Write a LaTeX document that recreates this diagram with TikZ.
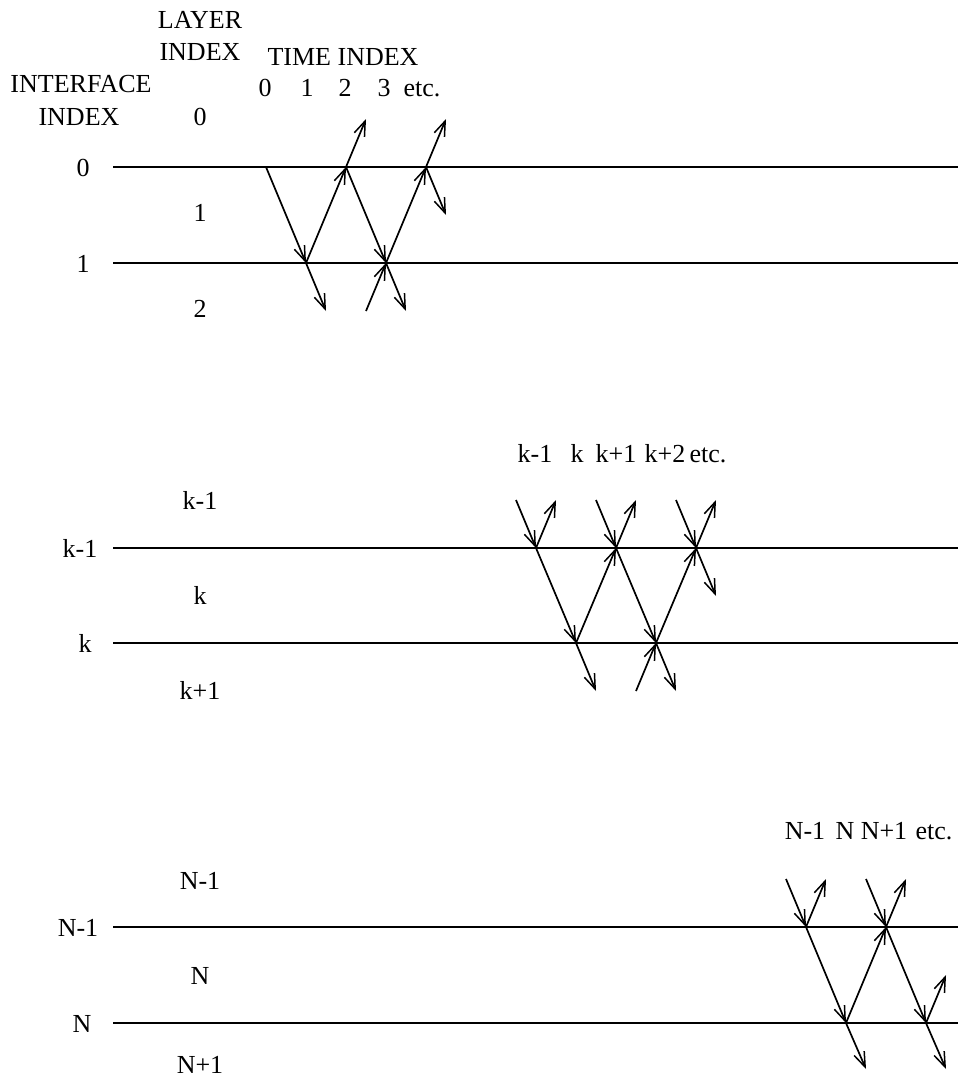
\documentclass[tikz,border=0pt]{standalone}
\usepackage{fontspec}
\setmainfont{Liberation Serif}
\usetikzlibrary{arrows.meta,calc}

\tikzset{
  ray/.style={line width=1.7pt,-{Straight Barb[length=15pt,width=11pt,line width=1.5pt]}},
  iface/.style={line width=1.2pt},
  lbl/.style={font=\fontsize{26}{31}\selectfont,inner sep=0pt,anchor=base},
}

\begin{document}
\begin{tikzpicture}[x=1pt,y=-1pt]
\useasboundingbox (0,0) rectangle (962,1079);

% interfaces
\foreach \name/\y in {i0/167,i1/263,ik1/548,ik/643,iN1/927,iN/1023}{
  \coordinate (\name-l) at (113,\y);
  \coordinate (\name-r) at (958,\y);
  \draw[iface] (\name-l) -- (\name-r);
}

% headings (positions are baselines)
\node[lbl] (hLayer)  at (200,28)  {LAYER};
\node[lbl] (hLayerI) at (200,60)  {INDEX};
\node[lbl] (hTime)   at (343,65)  {TIME INDEX};
\node[lbl] (hIface)  at (81,92)   {INTERFACE};
\node[lbl] (hIfaceI) at (79,125)  {INDEX};

% interface indices
\foreach \name/\x/\y/\t in {n0/83/176/0,n1/83/272/1,nk1/80/557/k-1,nk/85/652/k,nN1/78/936/N-1,nN/82/1032/N}
  \node[lbl] (\name) at (\x,\y) {\t};

% layer indices
\foreach \name/\y/\t in {l0/125/0,l1/221/1,l2/317/2,lk1/509/k-1,lk/604/k,lk2/699/k+1,lN1/889/N-1,lN/984/N,lN2/1073/N+1}
  \node[lbl] (\name) at (200,\y) {\t};

% time indices
\foreach \name/\x/\y/\t in {t0/265/96/0,t1/307/96/1,t2/345/96/2,t3/384/96/3,t4/422/96/etc.,
  tk0/535/462/k-1,tk1/577/462/k,tk2/616/462/k+1,tk3/665/462/k+2,tk4/708/462/etc.,
  tN0/805/839/N-1,tN1/845/839/N,tN2/884/839/N+1,tN3/934/839/etc.}
  \node[lbl] (\name) at (\x,\y) {\t};

% ray points
\foreach \n/\x/\y in {a0/266/167,a1/306/263,a2/346/167,a3/386/263,a4/426/167,
  a1d/326/311,a2u/366/119,a3d/406/311,a3b/366/311,a4u/446/119,a4d/446/215,
  b0/536/548,b1/576/643,b2/616/548,b3/656/643,b4/696/548,
  b0a/516/500,b0u/556/500,b1d/596/691,b2a/596/500,b2u/636/500,
  b3d/676/691,b3b/636/691,b4a/676/500,b4u/716/500,b4d/716/596,
  c0/806/927,c1/846/1023,c2/886/927,c3/926/1023,
  c0a/786/879,c0u/826/879,c1d/866/1069,c2a/866/879,c2u/906/879,
  c3d/946/1069,c3u/946/975}
  \coordinate (\n) at (\x,\y);

% rays
\foreach \s/\e in {a0/a1,a1/a1d,a1/a2,a2/a2u,a2/a3,a3/a3d,a3b/a3,a3/a4,a4/a4u,a4/a4d,
  b0a/b0,b0/b0u,b0/b1,b1/b1d,b1/b2,b2a/b2,b2/b2u,b2/b3,b3/b3d,b3b/b3,b3/b4,b4a/b4,b4/b4u,b4/b4d,
  c0a/c0,c0/c0u,c0/c1,c1/c1d,c1/c2,c2a/c2,c2/c2u,c2/c3,c3/c3d,c3/c3u}
  \draw[ray] (\s) -- (\e);

\end{tikzpicture}
\end{document}
